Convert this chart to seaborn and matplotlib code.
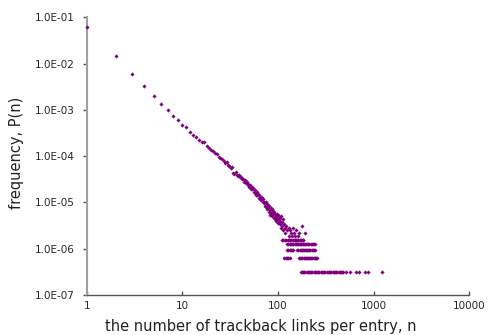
import numpy as np
import pandas as pd
import matplotlib
matplotlib.use("Agg")
import matplotlib.pyplot as plt
import seaborn as sns
from matplotlib.ticker import FixedLocator, FixedFormatter, NullLocator

# ---------------- data ----------------
# head of the distribution: n = 1..100, log10 of frequency
head_n = list(range(1, 101))
head_logP = [
    -1.21, -1.84, -2.23, -2.49, -2.71, -2.88, -3.00, -3.13, -3.22, -3.32,
    -3.37, -3.48, -3.54, -3.58, -3.66, -3.69, -3.70, -3.78, -3.82, -3.86,
    -3.89, -3.94, -3.96, -4.01, -4.03, -4.07, -4.10, -4.14, -4.13, -4.19,
    -4.21, -4.25, -4.24, -4.36, -4.39, -4.34, -4.41, -4.43, -4.40, -4.46,
    -4.44, -4.50, -4.49, -4.56, -4.52, -4.58, -4.55, -4.63, -4.60, -4.66,
    -4.62, -4.70, -4.67, -4.72, -4.69, -4.78, -4.74, -4.80, -4.83, -4.77,
    -4.85, -4.81, -4.90, -4.84, -4.92, -4.88, -4.95, -4.90, -5.00, -4.93,
    -5.02, -4.98, -5.08, -4.99, -5.10, -5.03, -5.15, -5.05, -5.12, -5.20,
    -5.08, -5.17, -5.27, -5.11, -5.22, -5.30, -5.14, -5.25, -5.19, -5.33,
    -5.21, -5.28, -5.36, -5.24, -5.31, -5.40, -5.26, -5.35, -5.44, -5.29,
]

# frequency of a single entry (lowest band)
single_entry_freq = 3.13e-7

# middle part: n and number of entries
mid_n = [101, 102, 103, 104, 105, 106, 107, 108, 110, 111, 113, 114, 115, 117,
         119, 122, 125, 129, 130, 135, 137, 140, 143, 146, 150, 154, 160, 165,
         177, 192]
mid_count = [17, 14, 12, 15, 11, 13, 9, 16, 10, 12, 8, 14, 11, 9,
             7, 10, 8, 9, 6, 8, 7, 6, 9, 7, 6, 8, 6, 7,
             10, 7]

# horizontal bands of small counts
band5_n = [109, 112, 118, 121, 126, 131, 134, 138, 142, 147, 151, 155, 158, 163,
           168, 172, 176, 181, 184]
band4_n = [125, 128, 132, 136, 139, 144, 149, 153, 157, 161, 166, 170, 175, 179,
           183, 188, 193, 197, 202, 207, 213, 219, 226, 232, 238, 244]
band3_n = [123, 127, 132, 136, 141, 145, 159, 163, 168, 172, 177, 182, 186, 191,
           196, 201, 206, 212, 218, 224, 231, 237, 244]
band2_n = [116, 120, 124, 128, 133, 167, 171, 176, 180, 185, 190, 195, 200, 205,
           211, 216, 222, 228, 235, 241, 247, 254]
band1_n = [173, 178, 183, 188, 193, 199, 204, 210, 216, 222, 228, 235, 242, 249,
           256, 263, 271, 279, 287, 295, 304, 313, 322, 331, 341, 351, 361, 372,
           383, 394, 405, 417, 429, 441, 454, 467, 478, 520, 565, 650, 710, 815,
           880, 1220]

x_tick_values = [1, 10, 100, 1000, 10000]
x_tick_labels = ["1", "10", "100", "1000", "10000"]
y_tick_values = [1e-7, 1e-6, 1e-5, 1e-4, 1e-3, 1e-2, 1e-1]
y_tick_labels = ["1.0E-07", "1.0E-06", "1.0E-05", "1.0E-04", "1.0E-03",
                 "1.0E-02", "1.0E-01"]

# ---------------- assemble ----------------
n_all = list(head_n) + mid_n
P_all = [10 ** v for v in head_logP] + [c * single_entry_freq for c in mid_count]
for k, ns in [(5, band5_n), (4, band4_n), (3, band3_n), (2, band2_n), (1, band1_n)]:
    n_all += ns
    P_all += [k * single_entry_freq] * len(ns)
df = pd.DataFrame({"n": n_all, "P": P_all})

# ---------------- plot ----------------
sns.set_style("white")
plt.rcParams["font.family"] = ["DejaVu Sans"]

fig, ax = plt.subplots(figsize=(4.88, 3.35), dpi=100)
fig.subplots_adjust(left=0.1777, right=0.9617, bottom=0.1194, top=0.9484)

sns.scatterplot(data=df, x="n", y="P", marker="D", s=4.5, color="#800080",
                linewidth=0, ax=ax, clip_on=False, zorder=3)

ax.set_xscale("log")
ax.set_yscale("log")
ax.set_xlim(1, 10000)
ax.set_ylim(1e-7, 1e-1)

ax.xaxis.set_major_locator(FixedLocator(x_tick_values))
ax.xaxis.set_major_formatter(FixedFormatter(x_tick_labels))
ax.yaxis.set_major_locator(FixedLocator(y_tick_values))
ax.yaxis.set_major_formatter(FixedFormatter(y_tick_labels))
ax.xaxis.set_minor_locator(NullLocator())
ax.yaxis.set_minor_locator(NullLocator())

for s in ["top", "right"]:
    ax.spines[s].set_visible(False)
ax.spines["left"].set_color("#a0a0a0")
ax.spines["left"].set_linewidth(1.5)
ax.spines["bottom"].set_color("#555555")
ax.spines["bottom"].set_linewidth(1.0)

ax.tick_params(axis="y", direction="out", length=3, width=1, color="#555555",
               labelsize=7.5, pad=5.5, left=True)
ax.tick_params(axis="x", direction="in", length=3, width=1, color="#555555",
               labelsize=7.5, pad=4, bottom=True)

ax.set_xlabel("the number of trackback links per entry, n", fontsize=10.5,
              color="#222222")
ax.set_ylabel("frequency, P(n)", fontsize=10.5, color="#222222")
ax.xaxis.set_label_coords(0.455, -0.086)
ax.yaxis.set_label_coords(-0.163, 0.51)

fig.savefig("out.png", dpi=100)
